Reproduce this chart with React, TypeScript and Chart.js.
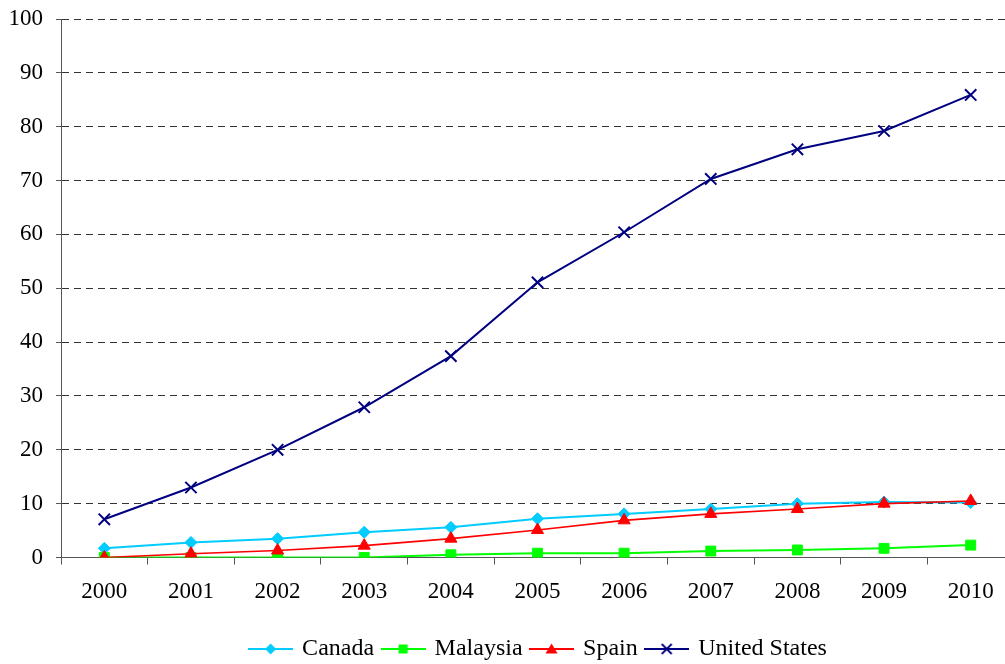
import React, { useEffect, useRef } from 'react';
import { Chart, registerables } from 'chart.js';

Chart.register(...registerables);

const years = ['2000', '2001', '2002', '2003', '2004', '2005', '2006', '2007', '2008', '2009', '2010'];
const seriesNames = ['Canada', 'Malaysia', 'Spain', 'United States'];
const canada = [1.7, 2.8, 3.5, 4.7, 5.6, 7.2, 8.1, 9.0, 10.0, 10.3, 10.2];
const malaysia = [0, 0, 0, 0, 0.5, 0.8, 0.8, 1.2, 1.4, 1.7, 2.3];
const spain = [0, 0.7, 1.3, 2.2, 3.5, 5.1, 6.9, 8.1, 9.0, 10.0, 10.5];
const unitedStates = [7.1, 13.0, 20.0, 27.9, 37.4, 51.1, 60.4, 70.3, 75.8, 79.2, 85.9];
const yTicks = [0, 10, 20, 30, 40, 50, 60, 70, 80, 90, 100];

const colors = ['#00CCFF', '#00FF00', '#FF0000', '#000080'];
const styles = ['rectRot', 'rect', 'triangle', 'crossRot'];
const radii = [6, 7, 7, 8];
const FONT = "'Liberation Serif', 'Times New Roman', serif";

function legendImage(color: string, style: string): HTMLCanvasElement {
  const c = document.createElement('canvas');
  c.width = 45;
  c.height = 16;
  const ctx = c.getContext('2d')!;
  ctx.strokeStyle = color;
  ctx.fillStyle = color;
  ctx.lineWidth = 2;
  ctx.beginPath();
  ctx.moveTo(0, 8);
  ctx.lineTo(45, 8);
  ctx.stroke();
  const x = 22.5, y = 8;
  ctx.beginPath();
  if (style === 'rectRot') {
    ctx.moveTo(x - 5.5, y); ctx.lineTo(x, y - 5.5); ctx.lineTo(x + 5.5, y); ctx.lineTo(x, y + 5.5); ctx.closePath(); ctx.fill();
  } else if (style === 'rect') {
    ctx.rect(x - 4.5, y - 4.5, 9, 9); ctx.fill();
  } else if (style === 'triangle') {
    ctx.moveTo(x - 6, y + 4.5); ctx.lineTo(x, y - 5.5); ctx.lineTo(x + 6, y + 4.5); ctx.closePath(); ctx.fill();
  } else {
    ctx.lineWidth = 1.8;
    ctx.moveTo(x - 5, y - 5); ctx.lineTo(x + 5, y + 5);
    ctx.moveTo(x + 5, y - 5); ctx.lineTo(x - 5, y + 5);
    ctx.stroke();
  }
  return c;
}

const legendShift = {
  id: 'legendShift',
  afterLayout(chart: any) {
    if (chart.legend) {
      chart.legend.left += 27;
      chart.legend.right += 27;
    }
  },
};

export default function App() {
  const ref = useRef<HTMLCanvasElement | null>(null);

  useEffect(() => {
    if (!ref.current) return;
    const values = [canada, malaysia, spain, unitedStates];
    const datasets = seriesNames.map((name, i) => ({
      label: name,
      data: values[i],
      borderColor: colors[i],
      backgroundColor: colors[i],
      borderWidth: i === 2 ? 1.6 : 2,
      pointStyle: styles[i] as any,
      pointRadius: radii[i],
      pointBackgroundColor: colors[i],
      pointBorderColor: colors[i],
      pointBorderWidth: i === 3 ? 2 : 1,
      tension: 0,
      order: 4 - i,
    }));

    const chart = new Chart(ref.current, {
      type: 'line',
      data: { labels: years, datasets },
      plugins: [legendShift],
      options: {
        animation: false,
        responsive: false,
        devicePixelRatio: 1,
        layout: { padding: { top: 19, right: 0, left: 0, bottom: 0 } },
        plugins: {
          tooltip: { enabled: false },
          legend: {
            position: 'bottom',
            labels: {
              usePointStyle: true,
              pointStyleWidth: 39,
              boxHeight: 16,
              padding: 9.5,
              color: '#000',
              font: { family: FONT, size: 24 },
              generateLabels: () =>
                seriesNames.map((name, i) => ({
                  text: name,
                  fillStyle: colors[i],
                  strokeStyle: colors[i],
                  lineWidth: 0,
                  pointStyle: legendImage(colors[i], styles[i]) as any,
                  hidden: false,
                  datasetIndex: i,
                  fontColor: '#000',
                })),
            },
          },
        },
        scales: {
          x: {
            type: 'category',
            offset: true,
            grid: {
              offset: true,
              drawOnChartArea: false,
              drawTicks: true,
              tickLength: 7,
              color: '#555',
            },
            border: { display: true, color: '#555', width: 1 },
            ticks: {
              color: '#000',
              padding: 14,
              maxRotation: 0,
              autoSkip: false,
              font: { family: FONT, size: 23 },
            },
            afterFit: (scale: any) => {
              scale.height = 70;
              scale.paddingLeft = 0;
              scale.paddingRight = 0;
            },
          },
          y: {
            min: 0,
            max: 100,
            afterBuildTicks: (scale: any) => {
              scale.ticks = yTicks.map((v) => ({ value: v }));
            },
            grid: {
              drawOnChartArea: true,
              drawTicks: true,
              tickLength: 5,
              color: '#333',
              lineWidth: 1,
              tickColor: '#555',
            },
            border: { display: true, color: '#555', width: 1, dash: [7, 5] },
            ticks: {
              color: '#000',
              padding: 13,
              font: { family: FONT, size: 23 },
            },
            afterFit: (scale: any) => {
              scale.width = 61;
              scale.paddingTop = 0;
              scale.paddingBottom = 0;
            },
          },
        },
      },
    });
    return () => chart.destroy();
  }, []);

  return (
    <div style={{ position: 'absolute', left: 0, top: 0, width: 1005, height: 664, overflow: 'hidden', background: '#fff' }}>
      <canvas ref={ref} width={1024} height={671} style={{ display: 'block' }} />
    </div>
  );
}
